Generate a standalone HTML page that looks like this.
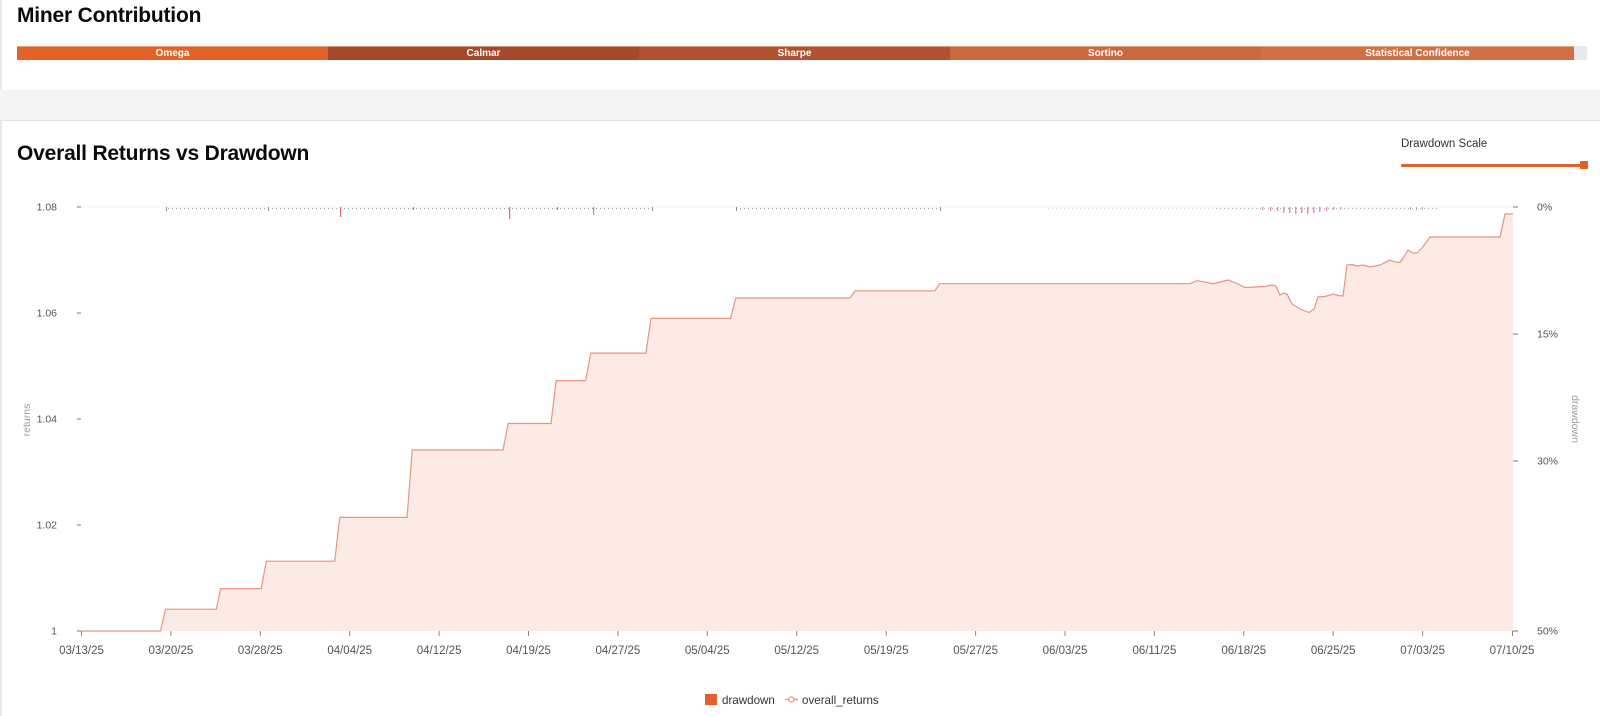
<!DOCTYPE html>
<html>
<head>
<meta charset="utf-8">
<style>
  html,body{margin:0;padding:0;}
  body{width:1600px;height:716px;overflow:hidden;background:#fff;position:relative;font-family:"Liberation Sans",Arial,sans-serif;}
  .leftline{position:absolute;left:0;top:0;width:2px;height:716px;background:#e9e9e9;}
  .band{position:absolute;left:0;top:90px;width:1600px;height:30px;background:#f4f4f4;border-bottom:1px solid #e2e2e2;}
  .title{position:absolute;left:17px;font-weight:bold;font-size:21px;line-height:21px;color:#0a0a0a;letter-spacing:-0.2px;white-space:nowrap;}
  .bar{position:absolute;top:46px;height:14px;left:17px;width:1570px;background:#e9e9e9;}
  .seg{position:absolute;top:0;height:14px;color:#fff;font-weight:bold;font-size:10px;line-height:15px;text-align:center;white-space:nowrap;box-shadow:inset 0 1px 0 rgba(255,210,180,.55);}
  .ds{position:absolute;left:1401px;top:138px;font-size:11.5px;color:#333;white-space:nowrap;}
  .slider{position:absolute;left:1401px;top:164px;width:184px;height:3px;background:#e0622a;border-radius:1px;}
  .handle{position:absolute;left:1580px;top:161px;width:8px;height:8px;background:#e0622a;}
  svg{position:absolute;left:0;top:0;}
</style>
</head>
<body>
<div class="leftline"></div>
<div class="title" style="top:5px;">Miner Contribution</div>
<div class="bar">
  <div class="seg" style="left:0;width:311px;background:#e2622a;">Omega</div>
  <div class="seg" style="left:311px;width:311px;background:#a5482a;">Calmar</div>
  <div class="seg" style="left:622px;width:311px;background:#b0522f;">Sharpe</div>
  <div class="seg" style="left:933px;width:311px;background:#cc6840;">Sortino</div>
  <div class="seg" style="left:1244px;width:313px;background:#d16f45;">Statistical Confidence</div>
</div>
<div class="band"></div>
<div class="title" style="top:143px;">Overall Returns vs Drawdown</div>
<div class="ds">Drawdown Scale</div>
<div class="slider"></div>
<div class="handle"></div>

<svg width="1600" height="716" viewBox="0 0 1600 716" xmlns="http://www.w3.org/2000/svg" font-family="Liberation Sans, Arial, sans-serif">
  <defs>
    <pattern id="dots" x="0" y="0" width="4" height="4" patternUnits="userSpaceOnUse">
      <rect x="0" y="0" width="1" height="2" fill="#9a9a9a"/>
    </pattern>
    <pattern id="dotsf" x="0" y="0" width="4" height="4" patternUnits="userSpaceOnUse">
      <rect x="0" y="0" width="1" height="2" fill="#d8d8d8"/>
    </pattern>
  </defs>

  <line x1="81.5" y1="207" x2="1513" y2="207" stroke="#f0f0f0" stroke-width="1"/>

  <path d="M81.5,631 L160.5,631 L165.5,609.2 L216.3,609.2 L220.6,588.6 L261.2,588.6 L266.3,561.2 L334.7,561.2 L339.8,517.4 L407.1,517.4 L412.2,450 L503,450 L508.2,423.5 L551,423.5 L556.1,380.6 L585.7,380.6 L590.8,353.1 L645.9,353.1 L651,318.4 L730.6,318.4 L735.7,298 L850,298 L855.1,290.8 L934.7,290.8 L939.8,283.7 L1190,283.7 L1197,280.7 L1205,282 L1213,283.7 L1220,282 L1228,280 L1236,283 L1245,287.5 L1255,287 L1265,286.5 L1272,285 L1276,286 L1280,295 L1284,293 L1287,294 L1292,304 L1300,309 L1309,312.5 L1314,309 L1318,297 L1325,296.5 L1333,294 L1338,295.5 L1343,296 L1347,265 L1352,264.5 L1357,266 L1363,265 L1370,267 L1380,265 L1390,260 L1395,262 L1400,262.5 L1405,255 L1408,250 L1413,253 L1417,253 L1422,248 L1430,237 L1500,237 L1505,214 L1513,214 L1513,631 Z" fill="#fcebe5"/>
  <path d="M81.5,631 L160.5,631 L165.5,609.2 L216.3,609.2 L220.6,588.6 L261.2,588.6 L266.3,561.2 L334.7,561.2 L339.8,517.4 L407.1,517.4 L412.2,450 L503,450 L508.2,423.5 L551,423.5 L556.1,380.6 L585.7,380.6 L590.8,353.1 L645.9,353.1 L651,318.4 L730.6,318.4 L735.7,298 L850,298 L855.1,290.8 L934.7,290.8 L939.8,283.7 L1190,283.7 L1197,280.7 L1205,282 L1213,283.7 L1220,282 L1228,280 L1236,283 L1245,287.5 L1255,287 L1265,286.5 L1272,285 L1276,286 L1280,295 L1284,293 L1287,294 L1292,304 L1300,309 L1309,312.5 L1314,309 L1318,297 L1325,296.5 L1333,294 L1338,295.5 L1343,296 L1347,265 L1352,264.5 L1357,266 L1363,265 L1370,267 L1380,265 L1390,260 L1395,262 L1400,262.5 L1405,255 L1408,250 L1413,253 L1417,253 L1422,248 L1430,237 L1500,237 L1505,214 L1513,214" fill="none" stroke="#e8957f" stroke-width="1.2"/>

  <rect x="166" y="207" width="487" height="2" fill="url(#dots)"/>
  <rect x="737" y="207" width="204" height="2" fill="url(#dots)"/>
  <rect x="1048" y="207" width="166" height="2" fill="url(#dotsf)"/>
  <rect x="1214" y="207" width="226" height="2" fill="url(#dots)" opacity="0.8"/>
  <g fill="#8a8a8a">
    <rect x="166" y="207" width="1" height="4"/>
    <rect x="268" y="207" width="1" height="4"/>
    <rect x="413" y="207" width="1" height="3"/>
    <rect x="557" y="207" width="1" height="3"/>
    <rect x="652" y="207" width="1" height="4"/>
    <rect x="736" y="207" width="1" height="4"/>
    <rect x="940" y="207" width="1" height="4"/>
  </g>
  <rect x="340" y="207" width="1.2" height="10" fill="#e06a6a"/>
  <rect x="509" y="207" width="1.2" height="12" fill="#e06a6a"/>
  <rect x="593" y="207" width="1.2" height="8" fill="#e8864a"/>
  <g fill="#ef8f97">
    <rect x="1262" y="207" width="1.3" height="3"/>
    <rect x="1270" y="207" width="1.3" height="4"/>
    <rect x="1277" y="207" width="1.3" height="4"/>
    <rect x="1283" y="207" width="1.5" height="6"/>
    <rect x="1289" y="207" width="1.5" height="6"/>
    <rect x="1295" y="207" width="1.5" height="7"/>
    <rect x="1301" y="207" width="1.5" height="6"/>
    <rect x="1307" y="207" width="1.5" height="7"/>
    <rect x="1313" y="207" width="1.5" height="6"/>
    <rect x="1319" y="207" width="1.5" height="5"/>
    <rect x="1326" y="207" width="1.3" height="4"/>
    <rect x="1333" y="207" width="1.3" height="3"/>
    <rect x="1340" y="207" width="1.3" height="3"/>
  </g>
  <g fill="#b0b0b0">
    <rect x="1410" y="207" width="1" height="3"/>
    <rect x="1416" y="207" width="1" height="3"/>
    <rect x="1422" y="207" width="1" height="3"/>
  </g>

  <g stroke="#777" stroke-width="1">
    <line x1="77" y1="207" x2="81" y2="207"/>
    <line x1="77" y1="313" x2="81" y2="313"/>
    <line x1="77" y1="419" x2="81" y2="419"/>
    <line x1="77" y1="525" x2="81" y2="525"/>
    <line x1="77" y1="631" x2="81" y2="631"/>
  </g>
  <g font-size="10.5" fill="#555" text-anchor="end">
    <text x="57" y="210.5">1.08</text>
    <text x="57" y="316.5">1.06</text>
    <text x="57" y="422.5">1.04</text>
    <text x="57" y="528.5">1.02</text>
    <text x="57" y="634.5">1</text>
  </g>
  <text x="0" y="0" font-size="10.5" fill="#9a9a9a" text-anchor="middle" transform="translate(30,420) rotate(-90)">returns</text>

  <g stroke="#777" stroke-width="1">
    <line x1="1513" y1="207" x2="1518" y2="207"/>
    <line x1="1513" y1="334" x2="1518" y2="334"/>
    <line x1="1513" y1="461" x2="1518" y2="461"/>
    <line x1="1513" y1="631" x2="1518" y2="631"/>
  </g>
  <g font-size="10.5" fill="#555">
    <text x="1537" y="210.5">0%</text>
    <text x="1537" y="337.5">15%</text>
    <text x="1537" y="464.5">30%</text>
    <text x="1537" y="634.5">50%</text>
  </g>
  <text x="0" y="0" font-size="10.5" fill="#9a9a9a" text-anchor="middle" transform="translate(1572,419) rotate(90)">drawdown</text>

  <g stroke="#888" stroke-width="1">
    <line x1="81.5" y1="631" x2="81.5" y2="636"/>
    <line x1="170.9" y1="631" x2="170.9" y2="636"/>
    <line x1="260.3" y1="631" x2="260.3" y2="636"/>
    <line x1="349.7" y1="631" x2="349.7" y2="636"/>
    <line x1="439.1" y1="631" x2="439.1" y2="636"/>
    <line x1="528.5" y1="631" x2="528.5" y2="636"/>
    <line x1="617.9" y1="631" x2="617.9" y2="636"/>
    <line x1="707.3" y1="631" x2="707.3" y2="636"/>
    <line x1="796.7" y1="631" x2="796.7" y2="636"/>
    <line x1="886.2" y1="631" x2="886.2" y2="636"/>
    <line x1="975.6" y1="631" x2="975.6" y2="636"/>
    <line x1="1065" y1="631" x2="1065" y2="636"/>
    <line x1="1154.4" y1="631" x2="1154.4" y2="636"/>
    <line x1="1243.8" y1="631" x2="1243.8" y2="636"/>
    <line x1="1333.2" y1="631" x2="1333.2" y2="636"/>
    <line x1="1422.6" y1="631" x2="1422.6" y2="636"/>
    <line x1="1512.5" y1="631" x2="1512.5" y2="636"/>
  </g>
  <g font-size="11.5" fill="#555" text-anchor="middle">
    <text x="81.5" y="654">03/13/25</text>
    <text x="170.9" y="654">03/20/25</text>
    <text x="260.3" y="654">03/28/25</text>
    <text x="349.7" y="654">04/04/25</text>
    <text x="439.1" y="654">04/12/25</text>
    <text x="528.5" y="654">04/19/25</text>
    <text x="617.9" y="654">04/27/25</text>
    <text x="707.3" y="654">05/04/25</text>
    <text x="796.7" y="654">05/12/25</text>
    <text x="886.2" y="654">05/19/25</text>
    <text x="975.6" y="654">05/27/25</text>
    <text x="1065" y="654">06/03/25</text>
    <text x="1154.4" y="654">06/11/25</text>
    <text x="1243.8" y="654">06/18/25</text>
    <text x="1333.2" y="654">06/25/25</text>
    <text x="1422.6" y="654">07/03/25</text>
    <text x="1512" y="654">07/10/25</text>
  </g>

  <rect x="705" y="694" width="12" height="11" fill="#e0622a"/>
  <text x="722" y="704" font-size="11.6" fill="#333">drawdown</text>
  <line x1="785" y1="699.5" x2="798" y2="699.5" stroke="#eb9f7f" stroke-width="1.5"/>
  <circle cx="791.5" cy="699.5" r="2.6" fill="#fff" stroke="#eb9f7f" stroke-width="1.3"/>
  <text x="802" y="704" font-size="11.6" fill="#333">overall_returns</text>
</svg>
</body>
</html>
